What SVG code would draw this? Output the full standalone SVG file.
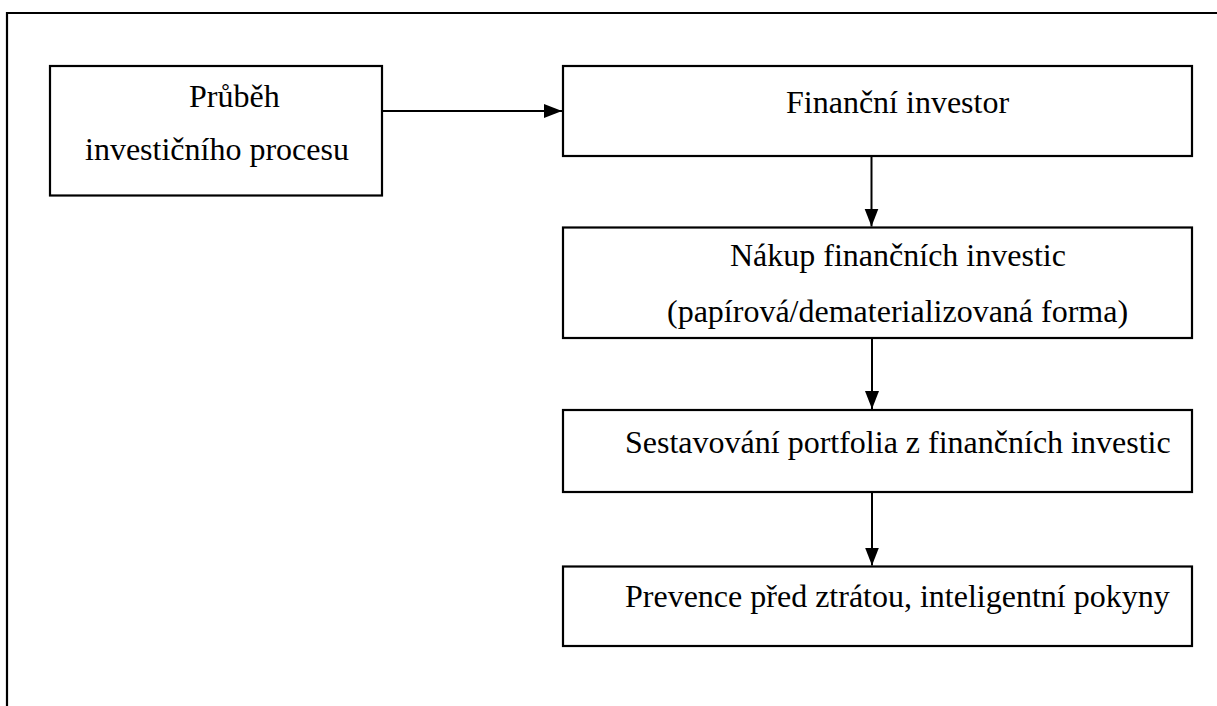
<svg xmlns="http://www.w3.org/2000/svg" width="1217" height="706" viewBox="0 0 1217 706">
  <style>
    .box { fill: #ffffff; stroke: #000000; stroke-width: 2.2; }
    .frame { fill: none; stroke: #000000; stroke-width: 2.2; }
    .lbl { font-family: "Liberation Serif", "Times New Roman", serif; font-size: 32px; fill: #000000; }
    .conn { fill: none; stroke: #000000; stroke-width: 2; }
  </style>
  <defs>
    <marker id="arrow" markerUnits="userSpaceOnUse" markerWidth="18" markerHeight="16" viewBox="0 0 18 16" refX="18" refY="8" orient="auto">
      <path d="M0,1 L18,8 L0,15 Z" fill="#000000"/>
    </marker>
  </defs>

  <rect width="1217" height="706" fill="#ffffff"/>

  <!-- outer frame: top and left edges -->
  <path class="frame" d="M7,706 L7,13 L1217,13"/>

  <g id="connectors">
    <line class="conn" x1="382" y1="111" x2="562" y2="111" marker-end="url(#arrow)"/>
    <line class="conn" x1="871.5" y1="156" x2="871.5" y2="226.5" marker-end="url(#arrow)"/>
    <line class="conn" x1="872" y1="338" x2="872" y2="409" marker-end="url(#arrow)"/>
    <line class="conn" x1="872" y1="492" x2="872" y2="565.5" marker-end="url(#arrow)"/>
  </g>

  <g id="node-prubeh">
    <rect class="box" x="50" y="66" width="332" height="129.5"/>
    <text class="lbl" x="189" y="107">Průběh</text>
    <text class="lbl" x="85" y="160">investičního procesu</text>
  </g>

  <g id="node-investor">
    <rect class="box" x="563" y="66" width="629" height="90"/>
    <text class="lbl" x="786" y="113">Finanční investor</text>
  </g>

  <g id="node-nakup">
    <rect class="box" x="563" y="227.5" width="629" height="110.5"/>
    <text class="lbl" x="730" y="266">Nákup finančních investic</text>
    <text class="lbl" x="667" y="322">(papírová/dematerializovaná forma)</text>
  </g>

  <g id="node-portfolio">
    <rect class="box" x="563" y="410" width="629" height="82"/>
    <text class="lbl" x="625" y="453">Sestavování portfolia z finančních investic</text>
  </g>

  <g id="node-prevence">
    <rect class="box" x="563" y="566.5" width="629" height="79.5"/>
    <text class="lbl" x="625" y="607">Prevence před ztrátou, inteligentní pokyny</text>
  </g>
</svg>
